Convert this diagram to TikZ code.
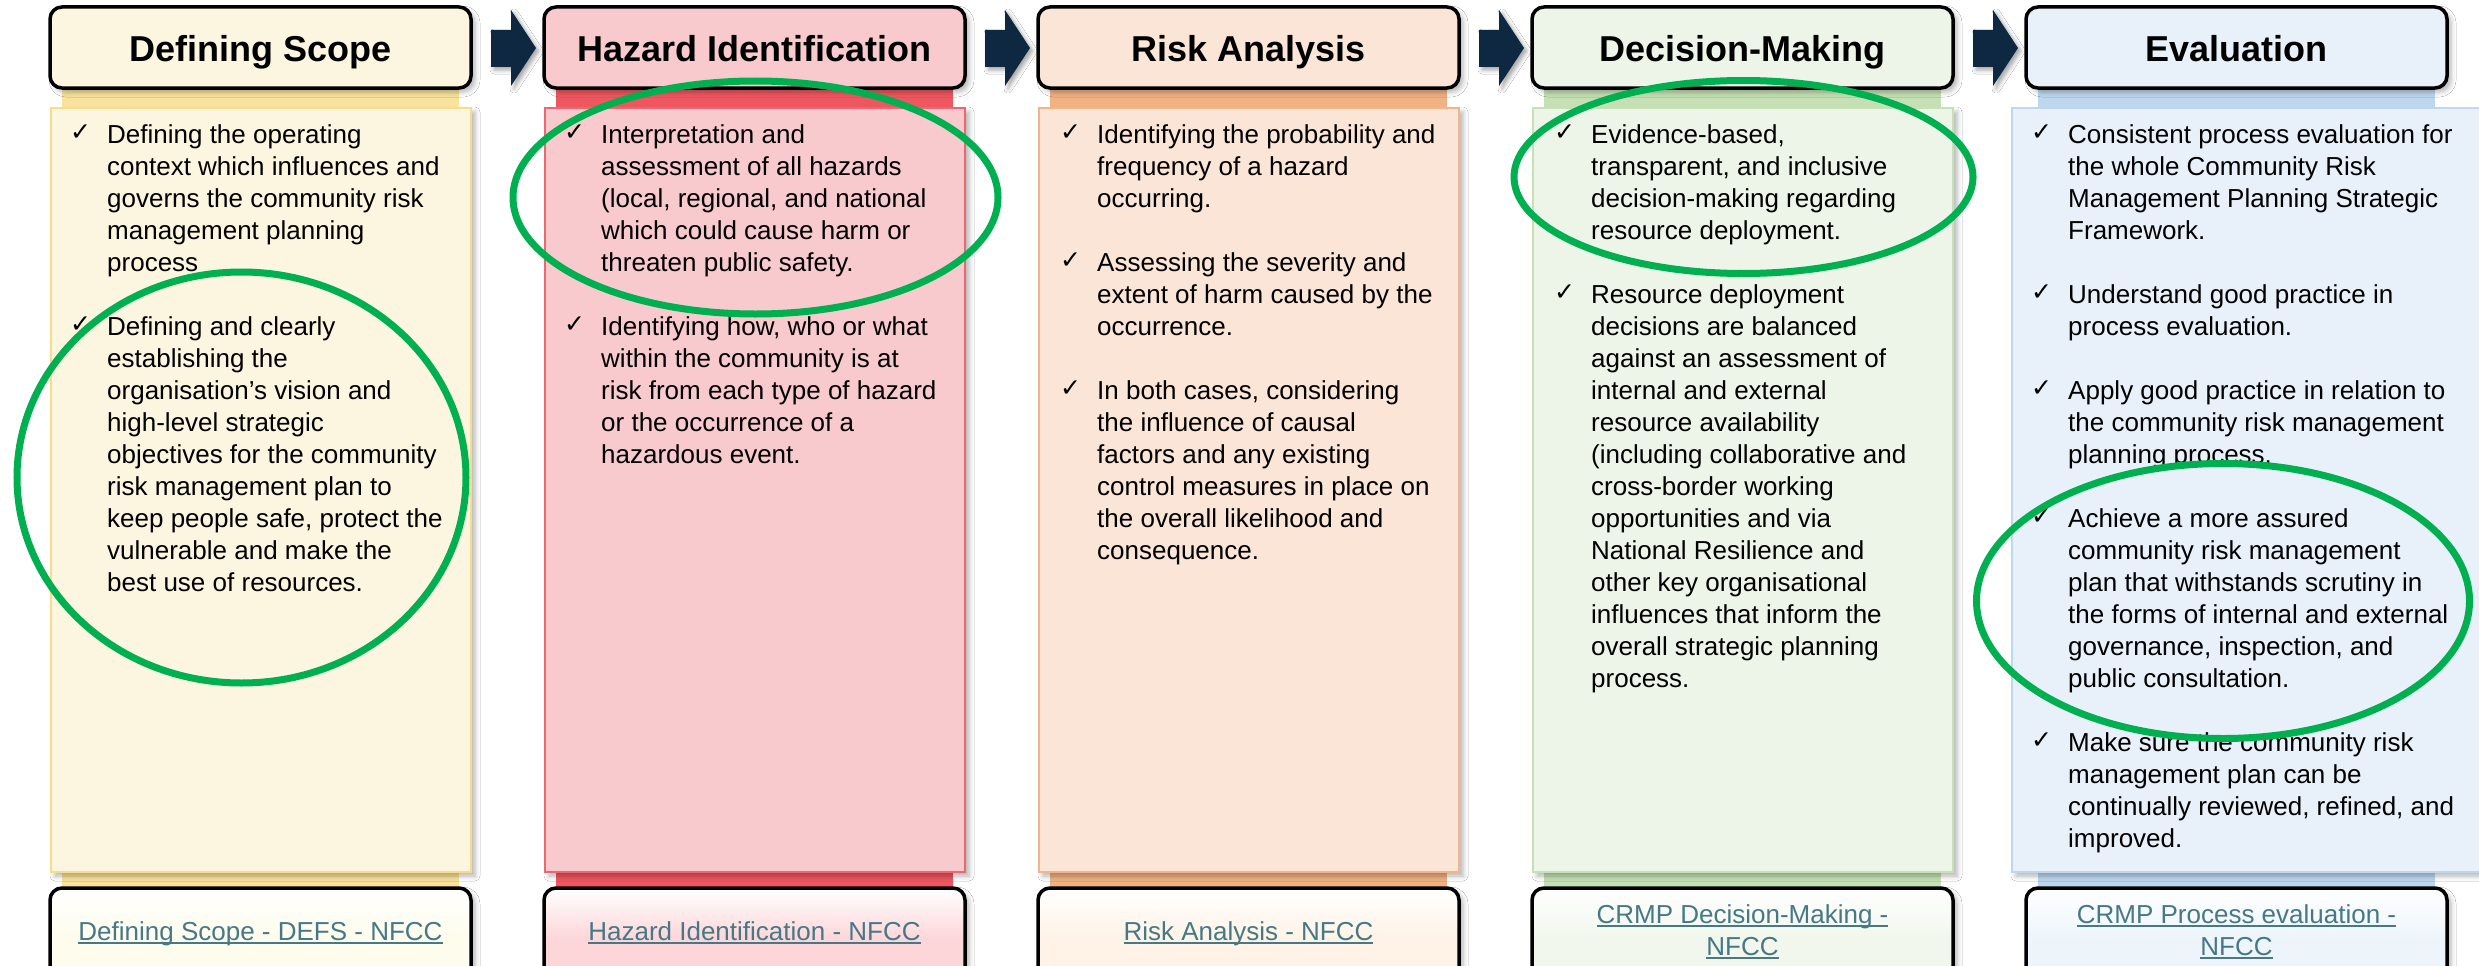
\documentclass[tikz,border=0pt]{standalone}
\usepackage{fontspec}
\setmainfont{Liberation Sans}
\newfontfamily\chkfont{DejaVu Sans}
\usetikzlibrary{shadows.blur}
\definecolor{navy}{HTML}{0E2841}
\definecolor{ringgreen}{HTML}{00B050}
\definecolor{linkcol}{HTML}{467886}
% column colours: l = light fill, b = strip, e = edge, k = link box
\definecolor{lA}{HTML}{FCF5DF}\definecolor{bA}{HTML}{F9E29C}\definecolor{eA}{HTML}{F7DC8C}\definecolor{kA}{HTML}{FEFCEC}
\definecolor{lB}{HTML}{F8CACD}\definecolor{bB}{HTML}{EF5760}\definecolor{eB}{HTML}{EE6770}\definecolor{kB}{HTML}{FDD6D9}
\definecolor{lC}{HTML}{FBE5D6}\definecolor{bC}{HTML}{F0B183}\definecolor{eC}{HTML}{F2B48A}\definecolor{kC}{HTML}{FEF3E6}
\definecolor{lD}{HTML}{EDF4E8}\definecolor{bD}{HTML}{C5E0B4}\definecolor{eD}{HTML}{C7E0B8}\definecolor{kD}{HTML}{F1F7EC}
\definecolor{lE}{HTML}{E8F0F9}\definecolor{bE}{HTML}{BDD7EE}\definecolor{eE}{HTML}{BDD7EE}\definecolor{kE}{HTML}{EDF5FB}
\newcommand\lnk[1]{\setbox0\hbox{#1}\rlap{\rule[-4pt]{\wd0}{2pt}}\box0}
\newcommand\ckitem[4]{%
  \node[chk] (#1c) at (#2,{#3-3}) {✓};
  \node[itemtext] (#1) at ({#2+37},#3) {\parbox[t]{440pt}{\raggedright #4}};}
\tikzset{
  softshadow/.style={blur shadow={shadow xshift=4pt, shadow yshift=-4pt, shadow blur radius=5pt, shadow opacity=30}},
  titlebox/.style={draw=black, line width=3.5pt, rounded corners=12pt, minimum width=421pt, minimum height=81pt,
    inner sep=0pt, font=\fontsize{36}{40}\selectfont\bfseries, text height=29pt, text depth=0pt, softshadow},
  strip/.style={minimum width=397pt, minimum height=800pt, inner sep=0pt, draw=none},
  bodybox/.style={line width=2pt, minimum height=764pt, inner sep=0pt, softshadow},
  linkbox/.style={draw=black, line width=3.5pt, rounded corners=12pt, minimum width=421pt, minimum height=102pt,
    inner sep=0pt, softshadow},
  chk/.style={anchor=base west, inner sep=0pt, font=\chkfont\fontsize{25}{28}\selectfont},
  itemtext/.style={anchor=base west, inner sep=0pt, font=\fontsize{26}{32}\selectfont},
  linktext/.style={anchor=base, inner sep=0pt, text=linkcol, font=\fontsize{26}{32}\selectfont},
  ring/.style={draw=ringgreen, line width=7pt},
  blockarrow/.style={fill=navy, blur shadow={shadow xshift=3pt, shadow yshift=-3pt, shadow blur radius=4pt, shadow opacity=35}}
}
\begin{document}
\begin{tikzpicture}[x=1pt,y=-1pt]
\useasboundingbox (0,0) rectangle (2479,966);
\clip (0,0) rectangle (2479,966);
\fill[white] (0,0) rectangle (2479,966);

% strips
\node[strip, fill=bA] (s1) at (260.5,488) {};
\node[strip, fill=bB] (s2) at (754.5,488) {};
\node[strip, fill=bC] (s3) at (1248.5,488) {};
\node[strip, fill=bD] (s4) at (1742.5,488) {};
\node[strip, fill=bE] (s5) at (2236.5,488) {};

% body boxes
\node[bodybox, fill=lA, draw=eA, minimum width=420pt] (b1) at (261,490) {};
\node[bodybox, fill=lB, draw=eB, minimum width=420pt] (b2) at (755,490) {};
\node[bodybox, fill=lC, draw=eC, minimum width=420pt] (b3) at (1249,490) {};
\node[bodybox, fill=lD, draw=eD, minimum width=420pt] (b4) at (1743,490) {};
\node[bodybox, fill=lE, draw=eE, minimum width=483pt] (b5) at (2253.5,490) {};

% title boxes
\node[titlebox, fill=lA] (t1) at (260.5,47.5) {Defining Scope};
\node[titlebox, fill=lB] (t2) at (754.5,47.5) {Hazard Identification};
\node[titlebox, fill=lC] (t3) at (1248.5,47.5) {Risk Analysis};
\node[titlebox, fill=lD] (t4) at (1742.5,47.5) {Decision-Making};
\node[titlebox, fill=lE] (t5) at (2236.5,47.5) {Evaluation};

% block arrows between titles
\foreach \i in {0,...,3}{
  \pgfmathsetmacro\ax{491+494*\i}
  \fill[blockarrow] (\ax,30) -- (\ax+20,30) -- (\ax+20,10) -- (\ax+45,48) -- (\ax+20,86) -- (\ax+20,67) -- (\ax,67) -- cycle;
}

% link boxes
\node[linkbox, top color=white, bottom color=kA, middle color=kA] (l1) at (260.5,939) {};
\node[linkbox, top color=white, bottom color=kB, middle color=kB] (l2) at (754.5,939) {};
\node[linkbox, top color=white, bottom color=kC, middle color=kC] (l3) at (1248.5,939) {};
\node[linkbox, top color=white, bottom color=kD, middle color=kD] (l4) at (1742.5,939) {};
\node[linkbox, top color=white, bottom color=kE, middle color=kE] (l5) at (2236.5,939) {};

\node[linktext] (lt1) at (260.5,940) {\lnk{Defining Scope - DEFS - NFCC}};
\node[linktext] (lt2) at (754.5,940) {\lnk{Hazard Identification - NFCC}};
\node[linktext] (lt3) at (1248.5,940) {\lnk{Risk Analysis - NFCC}};
\node[linktext] (lt4a) at (1742.5,923) {\lnk{CRMP Decision-Making -}};
\node[linktext] (lt4b) at (1742.5,955) {\lnk{NFCC}};
\node[linktext] (lt5a) at (2236.5,923) {\lnk{CRMP Process evaluation -}};
\node[linktext] (lt5b) at (2236.5,955) {\lnk{NFCC}};

% column 1
\ckitem{a1}{70}{143}{Defining the operating\\context which influences and\\governs the community risk\\management planning\\process}
\ckitem{a2}{70}{335}{Defining and clearly\\establishing the\\organisation’s vision and\\high-level strategic\\objectives for the community\\risk management plan to\\keep people safe, protect the\\vulnerable and make the\\best use of resources.}
% column 2
\ckitem{h1}{564}{143}{Interpretation and\\assessment of all hazards\\(local, regional, and national\\which could cause harm or\\threaten public safety.}
\ckitem{h2}{564}{335}{Identifying how, who or what\\within the community is at\\risk from each type of hazard\\or the occurrence of a\\hazardous event.}
% column 3
\ckitem{r1}{1060}{143}{Identifying the probability and\\frequency of a hazard\\occurring.}
\ckitem{r2}{1060}{271}{Assessing the severity and\\extent of harm caused by the\\occurrence.}
\ckitem{r3}{1060}{399}{In both cases, considering\\the influence of causal\\factors and any existing\\control measures in place on\\the overall likelihood and\\consequence.}
% column 4
\ckitem{d1}{1554}{143}{Evidence-based,\\transparent, and inclusive\\decision-making regarding\\resource deployment.}
\ckitem{d2}{1554}{303}{Resource deployment\\decisions are balanced\\against an assessment of\\internal and external\\resource availability\\(including collaborative and\\cross-border working\\opportunities and via\\National Resilience and\\other key organisational\\influences that inform the\\overall strategic planning\\process.}
% column 5
\ckitem{e1}{2031}{143}{Consistent process evaluation for\\the whole Community Risk\\Management Planning Strategic\\Framework.}
\ckitem{e2}{2031}{303}{Understand good practice in\\process evaluation.}
\ckitem{e3}{2031}{399}{Apply good practice in relation to\\the community risk management\\planning process.}
\ckitem{e4}{2031}{527}{Achieve a more assured\\community risk management\\plan that withstands scrutiny in\\the forms of internal and external\\governance, inspection, and\\public consultation.}
\ckitem{e5}{2031}{751}{Make sure the community risk\\management plan can be\\continually reviewed, refined, and\\improved.}

% green highlight rings
\draw[ring] (241.5,477.5) ellipse [x radius=224.5, y radius=205.5];
\draw[ring] (755.5,197.5) ellipse [x radius=242.5, y radius=116.5];
\draw[ring] (1743.5,177) ellipse [x radius=229.5, y radius=96.5];
\draw[ring] (2223,601) ellipse [x radius=246.5, y radius=137.5];
\end{tikzpicture}
\end{document}
